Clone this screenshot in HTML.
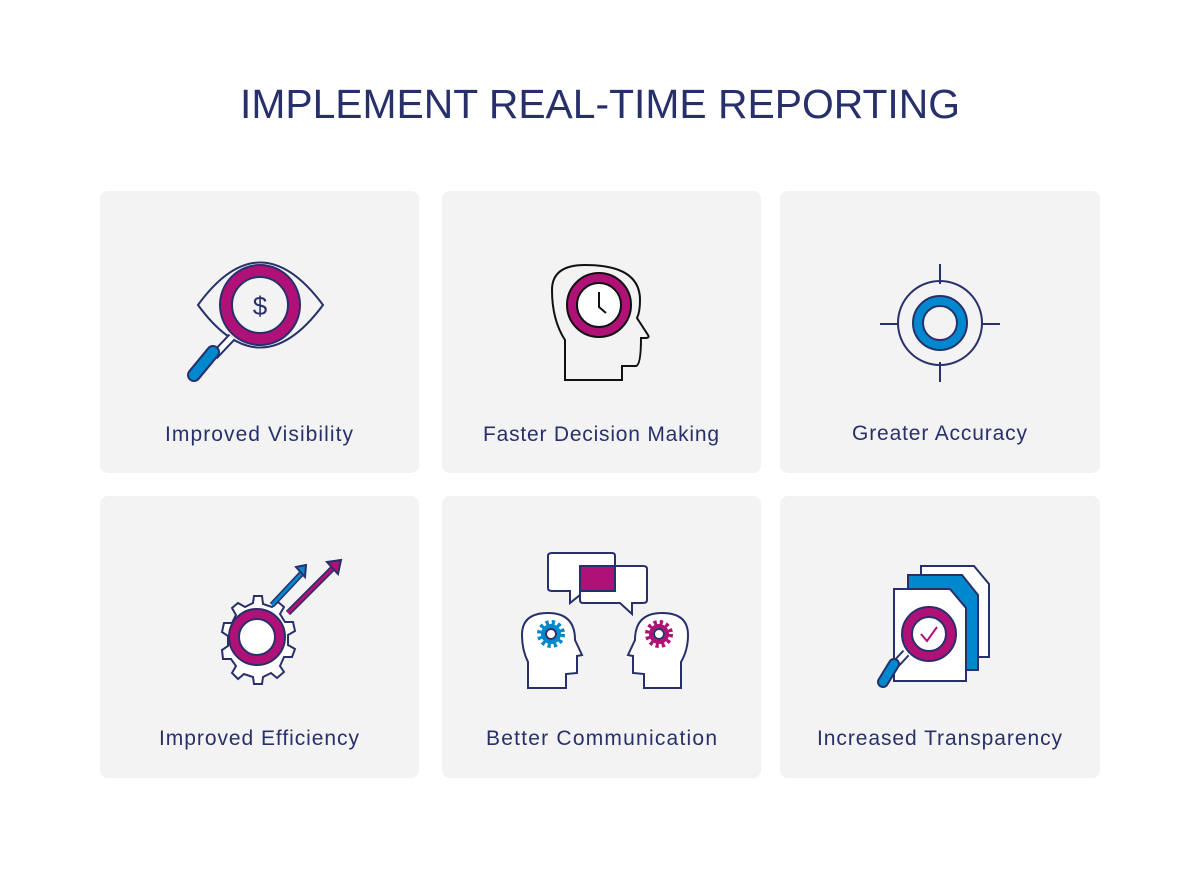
<!DOCTYPE html>
<html><head><meta charset="utf-8"><style>
body{margin:0;background:#fff;width:1200px;height:864px;overflow:hidden;font-family:"Liberation Sans",sans-serif}
</style></head><body>
<svg width="1200" height="864" viewBox="0 0 1200 864" xmlns="http://www.w3.org/2000/svg" font-family="Liberation Sans, sans-serif">
<text x="240" y="118" font-size="41" fill="#27306b" font-weight="300" textLength="720" lengthAdjust="spacingAndGlyphs">IMPLEMENT REAL-TIME REPORTING</text>
<g fill="#f3f3f3">
<rect x="100" y="191" width="319" height="282" rx="8"/>
<rect x="442" y="191" width="319" height="282" rx="8"/>
<rect x="780" y="191" width="320" height="282" rx="8"/>
<rect x="100" y="496" width="319" height="282" rx="8"/>
<rect x="442" y="496" width="319" height="282" rx="8"/>
<rect x="780" y="496" width="320" height="282" rx="8"/>
</g>
<g font-size="21" fill="#27306b" lengthAdjust="spacingAndGlyphs">
<text x="165" y="441" textLength="188">Improved Visibility</text>
<text x="483" y="441" textLength="236">Faster Decision Making</text>
<text x="852" y="440" textLength="175">Greater Accuracy</text>
<text x="159" y="745" textLength="200">Improved Efficiency</text>
<text x="486" y="745" textLength="231">Better Communication</text>
<text x="817" y="745" textLength="245">Increased Transparency</text>
</g>
<!-- Icon 1 eye -->
<g stroke="#27306b" stroke-width="2" fill="none">
<path d="M198 305 Q260 220 323 305 Q260 390 198 305Z"/>
<line x1="232" y1="337" x2="214" y2="356" stroke-width="9"/>
<line x1="232" y1="337" x2="214" y2="356" stroke="#fff" stroke-width="5"/>
<line x1="213" y1="352" x2="194" y2="375" stroke-width="14" stroke-linecap="round"/>
<line x1="213" y1="352" x2="194" y2="375" stroke="#0088cf" stroke-width="10" stroke-linecap="round"/>
<circle cx="260" cy="305" r="34" stroke="#b01177" stroke-width="11" fill="#f3f3f3"/>
<circle cx="260" cy="305" r="40"/><circle cx="260" cy="305" r="28" fill="#f3f3f3"/>
<text x="260" y="315" font-size="26" fill="#27306b" stroke="none" text-anchor="middle">$</text>
</g>
<!-- Icon 2 head -->
<g stroke="#111" stroke-width="2" fill="none">
<path d="M565 380 L565 340 Q552 320 552 290 Q552 265 585 265 Q640 265 640 300 Q640 312 637 318 L648 335 Q650 338 645 338 L641 338 Q641 365 636 366 L622 366 L622 380Z" fill="#f3f3f3"/>
<circle cx="599" cy="305" r="27" stroke="#b01177" stroke-width="9"/>
<circle cx="599" cy="305" r="32"/><circle cx="599" cy="305" r="22" fill="#fff"/>
<path d="M599 292 L599 307 L606 313"/>
</g>
<!-- Icon 3 target -->
<g stroke="#27306b" stroke-width="2" fill="none">
<circle cx="940" cy="323" r="42"/>
<line x1="940" y1="264" x2="940" y2="284"/><line x1="940" y1="362" x2="940" y2="382"/>
<line x1="880" y1="324" x2="897" y2="324"/><line x1="983" y1="324" x2="1000" y2="324"/>
<circle cx="940" cy="323" r="22" stroke="#0088cf" stroke-width="10"/>
<circle cx="940" cy="323" r="27"/><circle cx="940" cy="323" r="17"/>
</g>
<!-- Icon 4 gear -->
<g stroke="#27306b" stroke-width="2" fill="none">
<path d="M254 596 L262 596 L263 604 L272 607 L278 602 L284 607 L280 614 L285 622 L293 622 L295 631 L288 635 L288 645 L295 649 L292 657 L284 657 L280 666 L284 672 L277 678 L271 673 L263 677 L262 684 L254 684 L253 677 L244 674 L238 679 L232 673 L236 666 L231 659 L223 659 L222 650 L228 646 L228 636 L222 632 L224 623 L232 623 L236 615 L232 608 L238 603 L245 607 L253 603Z" fill="#fff"/>
<line x1="272" y1="605" x2="302" y2="573" stroke-width="6"/>
<line x1="272" y1="605" x2="302" y2="573" stroke="#0088cf" stroke-width="3"/>
<path d="M296 567 L306 565 L305 577Z" fill="#0088cf"/>
<line x1="288" y1="613" x2="333" y2="568" stroke-width="6"/>
<line x1="288" y1="613" x2="333" y2="568" stroke="#b01177" stroke-width="3"/>
<path d="M327 562 L341 560 L338 574Z" fill="#b01177"/>
<circle cx="257" cy="637" r="23" stroke="#b01177" stroke-width="9" fill="#fff"/>
<circle cx="257" cy="637" r="28"/><circle cx="257" cy="637" r="18"/>
</g>
<!-- Icon 5 communication -->
<g stroke="#27306b" stroke-width="2" fill="none">
<path d="M552 553 L612 553 Q615 553 615 556 L615 588 Q615 591 612 591 L585 591 L570 603 L570 591 L552 591 Q548 591 548 588 L548 556 Q548 553 552 553Z" fill="#fff"/>
<path d="M583 566 L643 566 Q647 566 647 569 L647 600 Q647 603 643 603 L632 603 L632 614 L620 603 L583 603 Q580 603 580 600 L580 569 Q580 566 583 566Z" fill="#fff"/>
<rect x="580" y="566" width="35" height="25" fill="#b01177"/>
<path d="M528 688 L528 662 Q522 650 522 635 Q522 613 548 613 Q575 613 575 640 L582 655 L577 656 L577 673 L566 674 L566 688Z" fill="#fff"/>
<path d="M681 688 L681 662 Q688 650 688 635 Q688 613 662 613 Q635 613 635 640 L628 655 L633 656 L633 673 L644 674 L644 688Z" fill="#fff"/>
<circle cx="551" cy="634" r="11" stroke="#0088cf" stroke-width="6" stroke-dasharray="3 2.8"/>
<circle cx="551" cy="634" r="8" stroke="#0088cf" stroke-width="4"/>
<circle cx="551" cy="634" r="5" fill="#fff"/>
<circle cx="659" cy="634" r="11" stroke="#b01177" stroke-width="6" stroke-dasharray="3 2.8"/>
<circle cx="659" cy="634" r="8" stroke="#b01177" stroke-width="4"/>
<circle cx="659" cy="634" r="5" fill="#fff"/>
</g>
<!-- Icon 6 documents -->
<g stroke="#27306b" stroke-width="2" fill="none">
<path d="M921 566 L974 566 L989 584 L989 657 L921 657Z" fill="#fff"/>
<path d="M908 575 L962 575 L978 595 L978 670 L908 670Z" fill="#0088cf"/>
<path d="M894 589 L950 589 L966 608 L966 681 L894 681Z" fill="#fff"/>
<line x1="906" y1="653" x2="893" y2="667" stroke-width="9"/>
<line x1="906" y1="653" x2="893" y2="667" stroke="#fff" stroke-width="5"/>
<line x1="894" y1="664" x2="883" y2="682" stroke-width="12" stroke-linecap="round"/>
<line x1="894" y1="664" x2="883" y2="682" stroke="#0088cf" stroke-width="8" stroke-linecap="round"/>
<circle cx="929" cy="634" r="22" stroke="#b01177" stroke-width="9" fill="#fff"/>
<circle cx="929" cy="634" r="27"/><circle cx="929" cy="634" r="17"/>
<path d="M921 634 L927 641 L937 627" stroke="#b01177"/>
</g>
</svg>
</body></html>
